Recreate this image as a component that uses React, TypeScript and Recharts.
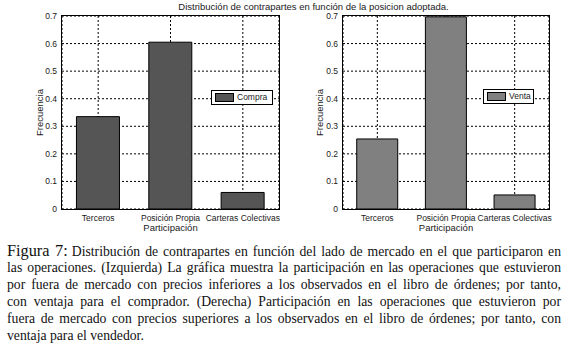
import { Bar, BarChart, CartesianGrid, Legend, XAxis, YAxis } from 'recharts';

const categories = ['Terceros', 'Posición Propia', 'Carteras Colectivas'];
const compra = [0.335, 0.605, 0.06];
const venta = [0.254, 0.697, 0.051];
const yTicks = [0, 0.1, 0.2, 0.3, 0.4, 0.5, 0.6, 0.7];

const title = 'Distribución de contrapartes en función de la posicion adoptada.';
const figLabel = 'Figura 7:';
const captionLines = [
  'Distribución de contrapartes en función del lado de mercado en el que participaron en',
  'las operaciones. (Izquierda) La gráfica muestra la participación en las operaciones que estuvieron',
  'por fuera de mercado con precios inferiores a los observados en el libro de órdenes; por tanto,',
  'con ventaja para el comprador. (Derecha) Participación en las operaciones que estuvieron por',
  'fuera de mercado con precios superiores a los observados en el libro de órdenes; por tanto, con',
  'ventaja para el vendedor.',
];

const SANS = '"Liberation Sans", Arial, sans-serif';
const SERIF = '"Liberation Serif", "Times New Roman", serif';
const INK = '#1a1a1a';
const TOP = 16;
const BOTTOM = 209;
const HEIGHT = 240;

function LegendBox({ payload, width }: any) {
  const item = payload?.[0];
  if (!item) return null;
  return (
    <div
      style={{
        position: 'relative',
        width,
        height: 15,
        border: '1px solid #000',
        boxSizing: 'border-box',
        background: '#fff',
        fontFamily: SANS,
        fontSize: 8.5,
        color: INK,
      }}
    >
      <div
        style={{
          position: 'absolute',
          left: 3,
          top: 2,
          width: 19,
          height: 9,
          boxSizing: 'border-box',
          border: '1px solid #000',
          background: item.color,
        }}
      />
      <span style={{ position: 'absolute', left: 25, top: 0, lineHeight: '13px' }}>{item.value}</span>
    </div>
  );
}

interface PanelProps {
  values: number[];
  name: string;
  color: string;
  width: number;
  plotLeft: number;
  plotRight: number;
  labelDx: number;
  legendLeft: number;
  legendTop: number;
  legendWidth: number;
}

function Panel({ values, name, color, width, plotLeft, plotRight, labelDx, legendLeft, legendTop, legendWidth }: PanelProps) {
  const data = categories.map((c, i) => ({ name: c, value: values[i] }));
  const tick = { fontSize: 8.5, fontFamily: SANS, fill: INK };
  return (
    <div style={{ position: 'relative', width, height: HEIGHT }}>
      <BarChart
        width={width}
        height={HEIGHT}
        data={data}
        margin={{ top: TOP, right: width - plotRight, bottom: 0, left: 0 }}
        barCategoryGap="20%"
      >
        <CartesianGrid stroke="#000" strokeWidth={1} strokeDasharray="2 2" />
        <XAxis
          dataKey="name"
          height={HEIGHT - BOTTOM}
          interval={0}
          tickLine={false}
          tickSize={0}
          tickMargin={6}
          axisLine={false}
          tick={tick}
          label={{ value: 'Participación', position: 'insideBottom', offset: 9, fontSize: 9.5, fontFamily: SANS, fill: INK }}
        />
        <YAxis
          width={plotLeft}
          type="number"
          domain={[0, 0.7]}
          ticks={yTicks}
          interval={0}
          tickLine={false}
          tickSize={0}
          tickMargin={5}
          axisLine={false}
          tick={tick}
          label={{ value: 'Frecuencia', angle: -90, position: 'center', dx: labelDx, fontSize: 9.5, fontFamily: SANS, fill: INK }}
        />
        <Legend
          layout="horizontal"
          verticalAlign="middle"
          align="center"
          wrapperStyle={{ left: legendLeft, top: legendTop, width: legendWidth, height: 15 }}
          content={(props: any) => <LegendBox {...props} width={legendWidth} />}
        />
        <Bar dataKey="value" name={name} fill={color} stroke="#000" strokeWidth={1} isAnimationActive={false} />
      </BarChart>
      {/* MATLAB-style axes box around the plot area */}
      <div
        style={{
          position: 'absolute',
          left: plotLeft - 1,
          top: TOP - 1,
          width: plotRight - plotLeft + 2,
          height: BOTTOM - TOP + 2,
          border: '1px solid #000',
          boxSizing: 'border-box',
          pointerEvents: 'none',
        }}
      />
    </div>
  );
}

export default function App() {
  return (
    <div style={{ position: 'absolute', left: 0, top: 0, width: 564, height: 352, background: '#fff', overflow: 'hidden' }}>
      <div style={{ position: 'absolute', left: 0, top: 0 }}>
        <Panel
          values={compra}
          name="Compra"
          color="#555555"
          width={290}
          plotLeft={62}
          plotRight={279}
          labelDx={8.7}
          legendLeft={211}
          legendTop={90}
          legendWidth={62}
        />
      </div>
      <div style={{ position: 'absolute', left: 282, top: 0 }}>
        <Panel
          values={venta}
          name="Venta"
          color="#808080"
          width={282}
          plotLeft={61}
          plotRight={267}
          labelDx={7.5}
          legendLeft={201}
          legendTop={89}
          legendWidth={51}
        />
      </div>
      <svg style={{ position: 'absolute', left: 0, top: 0 }} width={564} height={14}>
        <text x={313.5} y={9.5} textAnchor="middle" fontSize={9.5} fontFamily={SANS} fill={INK}>
          {title}
        </text>
      </svg>
      {captionLines.map((line, i) => (
        <div
          key={i}
          style={{
            position: 'absolute',
            left: 7,
            top: 242 + i * 17,
            width: 554,
            fontFamily: SERIF,
            fontSize: 13.7,
            lineHeight: '17px',
            color: '#111',
            textAlign: i < captionLines.length - 1 ? 'justify' : 'left',
            textAlignLast: i < captionLines.length - 1 ? 'justify' : 'left',
          }}
        >
          {i === 0 && <span style={{ fontSize: 16.3, marginRight: 4 }}>{figLabel}</span>}
          {line}
        </div>
      ))}
    </div>
  );
}
